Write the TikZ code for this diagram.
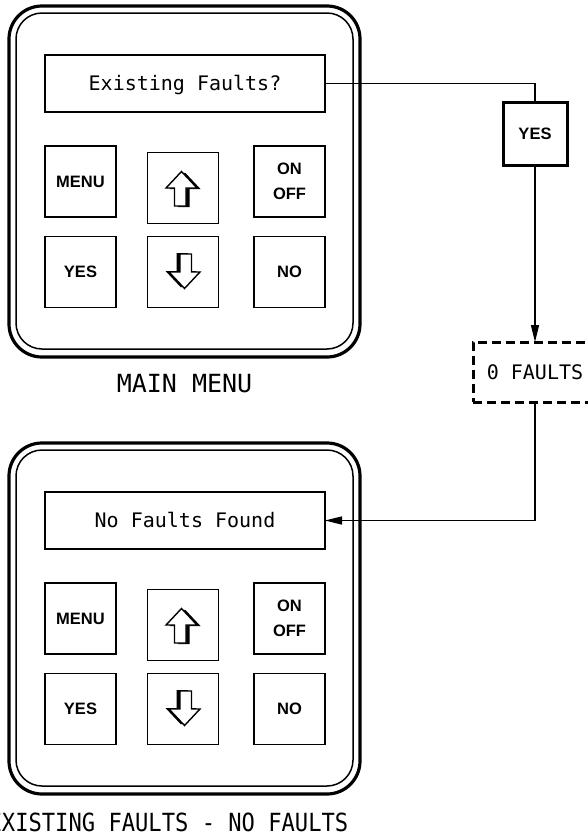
\documentclass[tikz,border=0pt]{standalone}
\usepackage{fontspec}
\newfontfamily\monof{DejaVu Sans Mono}
\newfontfamily\btnf{Liberation Sans}
\usetikzlibrary{arrows.meta}
\tikzset{
  uparr/.pic={
    \fill[shift={(3.5,1)},line join=miter] (-1.5,-16.5) -- (14,0) -- (3,0) -- (3,18) -- (-8.5,18) -- (-8.5,0) -- (-17,0) -- cycle;
    \filldraw[fill=white,draw=black,line width=1.4pt,line join=miter] (-1.5,-16.5) -- (14,0) -- (3,0) -- (3,18) -- (-8.5,18) -- (-8.5,0) -- (-17,0) -- cycle;
  }
}
\begin{document}
\begin{tikzpicture}[x=1pt,y=-1pt,
  panelout/.style={draw,line width=3.2pt,rounded corners=33pt,minimum width=351pt,minimum height=351pt,inner sep=0pt,outer sep=0pt},
  panelin/.style={draw,line width=1.5pt,rounded corners=26pt,minimum width=337pt,minimum height=336pt,inner sep=0pt,outer sep=0pt},
  display/.style={draw,line width=1.2pt,minimum width=280pt,minimum height=57pt,inner sep=0pt,outer sep=0pt,
    font=\monof\fontsize{20}{24}\selectfont,text height=14.6pt,text depth=0pt},
  btn/.style={draw,line width=1.2pt,minimum width=71pt,minimum height=71pt,inner sep=0pt,outer sep=0pt,
    font=\btnf\bfseries\fontsize{16.5}{25}\selectfont,align=center},
  sidebtn/.style={draw,line width=3pt,minimum width=64pt,minimum height=63pt,inner sep=0pt,outer sep=0pt,
    font=\btnf\bfseries\fontsize{16.5}{25}\selectfont,text height=11.8pt,text depth=0pt},
  dashbox/.style={draw,line width=3pt,dash pattern=on 9pt off 5pt,minimum width=124pt,minimum height=60pt,inner sep=0pt,outer sep=0pt,
    font=\monof\fontsize{20}{24}\selectfont,text height=14.6pt,text depth=0pt},
  caption/.style={inner sep=0pt,font=\monof\fontsize{25}{30}\selectfont},
  conn/.style={draw,line width=1.3pt},
  tip/.style={-{Triangle[length=17pt,width=8pt]}}
]
\useasboundingbox (0,0) rectangle (588,836);

% ---------- top panel ----------
\node[panelout] (p1o) at (184.5,181.5) {};
\node[panelin]  (p1i) at (184.5,181) {};
\node[display]  (d1)  at (185,83.5) {Existing Faults?};
\node[btn,text height=11.8pt,text depth=0pt] (menu1) at (80.5,181.5) {MENU};
\node[btn] (up1) at (183,188) {};
\node[btn] (onoff1) at (289.5,181.5) {ON\\OFF};
\node[btn,text height=11.8pt,text depth=0pt] (yes1) at (80.5,272) {YES};
\node[btn] (dn1) at (183,272) {};
\node[btn,text height=11.8pt,text depth=0pt] (no1) at (289.5,272) {NO};
\pic at (up1.center) {uparr};
\pic[rotate=180] at (dn1.center) {uparr};
\node[caption,anchor=base] (cap1) at (184.5,392) {MAIN MENU};

% ---------- bottom panel ----------
\node[panelout] (p2o) at (184.5,618.5) {};
\node[panelin]  (p2i) at (184.5,618) {};
\node[display]  (d2)  at (185,520.5) {No Faults Found};
\node[btn,text height=11.8pt,text depth=0pt] (menu2) at (80.5,618.5) {MENU};
\node[btn] (up2) at (183,625) {};
\node[btn] (onoff2) at (289.5,618.5) {ON\\OFF};
\node[btn,text height=11.8pt,text depth=0pt] (yes2) at (80.5,709) {YES};
\node[btn] (dn2) at (183,709) {};
\node[btn,text height=11.8pt,text depth=0pt] (no2) at (289.5,709) {NO};
\pic at (up2.center) {uparr};
\pic[rotate=180] at (dn2.center) {uparr};
\node[caption,anchor=base east] (cap2) at (348.5,831) {\scalebox{0.885}[1]{EXISTING FAULTS - NO FAULTS}};

% ---------- flow ----------
\node[sidebtn] (yesbox) at (535,133.5) {YES};
\node[dashbox] (zero) at (535,372) {0 FAULTS};

\draw[conn] (d1.east) -- (d1.east -| yesbox.north) -- (yesbox.north);
\draw[conn,tip] (yesbox.south) -- (zero.north);
\draw[conn,tip] (zero.south) |- (d2.east);
\end{tikzpicture}
\end{document}
